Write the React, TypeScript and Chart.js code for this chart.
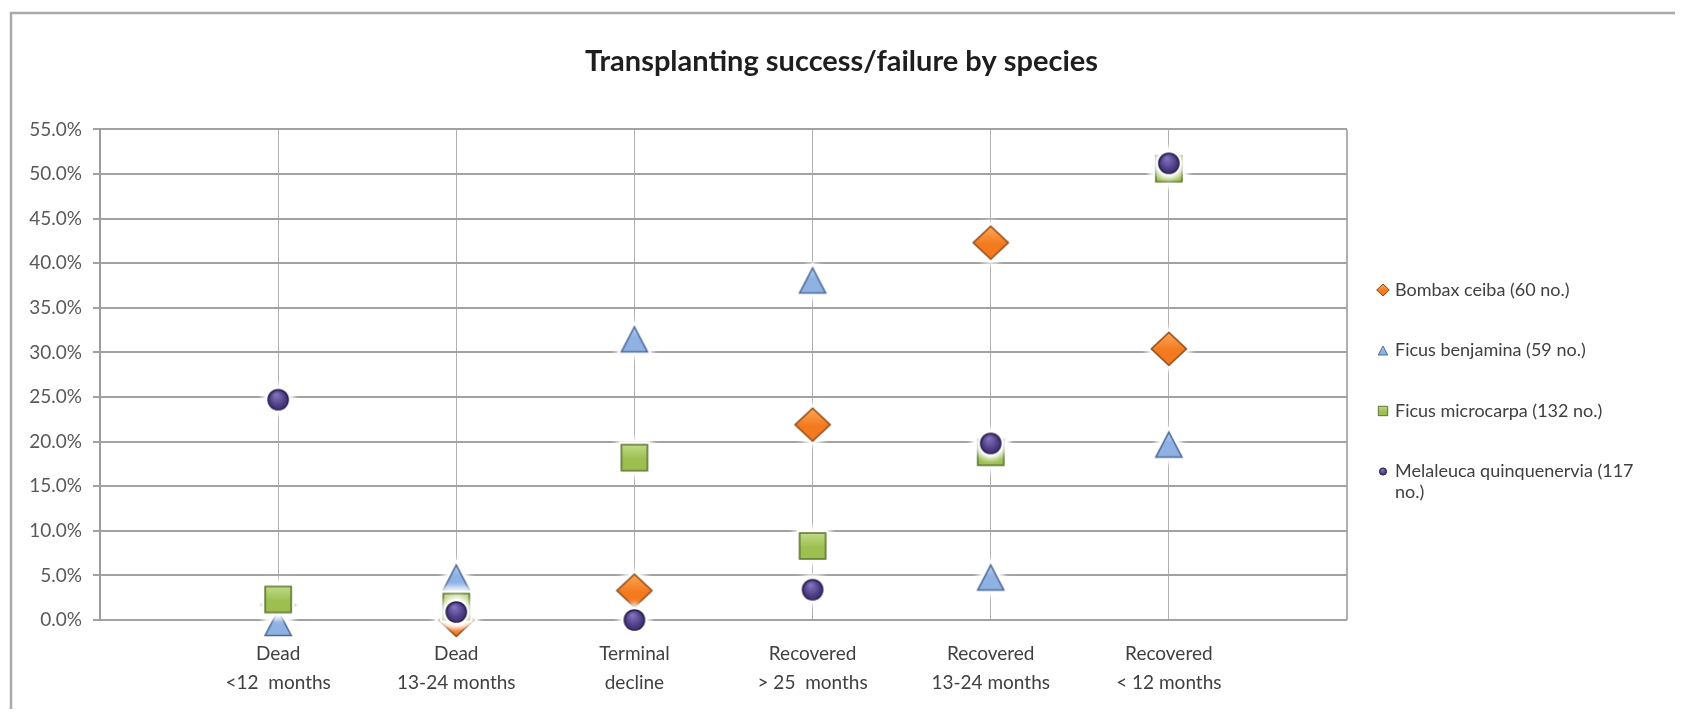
import { useEffect, useRef } from "react";
import { Chart, registerables } from "chart.js";

Chart.register(...registerables);

// Outcome categories (x positions 1..6), each label split over two lines
const categories: string[][] = [
  ["Dead", "<12  months"],
  ["Dead", "13-24 months"],
  ["Terminal", "decline"],
  ["Recovered", "> 25  months"],
  ["Recovered", "13-24 months"],
  ["Recovered", "< 12 months"],
];

const seriesNames = [
  "Bombax ceiba (60 no.)",
  "Ficus benjamina (59 no.)",
  "Ficus microcarpa (132 no.)",
  "Melaleuca quinquenervia (117 no.)",
];

// Share of trees (%) in each outcome category
const bombaxCeiba = [1.7, 0.0, 3.3, 21.9, 42.3, 30.4];
const ficusBenjamina = [0.0, 5.1, 31.8, 38.4, 5.1, 20.0];
const ficusMicrocarpa = [2.3, 1.5, 18.2, 8.3, 18.8, 50.6];
const melaleucaQuinquenervia = [24.7, 0.9, 0.0, 3.4, 19.8, 51.2];

const yMin = 0;
const yMax = 55;
const yStep = 5;

const FONT = "Lato, 'Open Sans', 'DejaVu Sans', sans-serif";

type Shape = "diamond" | "triangle" | "square" | "circle";

interface MarkerStyle {
  shape: Shape;
  light: string;
  base: string;
  stroke: string;
}

const markerStyles: MarkerStyle[] = [
  { shape: "diamond", light: "#ffa655", base: "#f47a1f", stroke: "#8e4a17" },
  { shape: "triangle", light: "#cfe1f7", base: "#8fb2e3", stroke: "#4b6a9b" },
  { shape: "square", light: "#c9e193", base: "#9cbf4f", stroke: "#5b7530" },
  { shape: "circle", light: "#8272bd", base: "#46377c", stroke: "#2c2250" },
];

function tracePath(ctx: CanvasRenderingContext2D, shape: Shape, s: number, dy: number) {
  ctx.beginPath();
  switch (shape) {
    case "diamond":
      ctx.moveTo(0, -16.5 * s);
      ctx.lineTo(17.5 * s, 0);
      ctx.lineTo(0, 16.5 * s);
      ctx.lineTo(-17.5 * s, 0);
      break;
    case "triangle":
      ctx.moveTo(0, (-12.5 + dy) * s);
      ctx.lineTo(13 * s, (12.5 + dy) * s);
      ctx.lineTo(-13 * s, (12.5 + dy) * s);
      break;
    case "square":
      ctx.rect(-13 * s, -13 * s, 26 * s, 26 * s);
      break;
    case "circle":
      ctx.arc(0, 0, 10 * s, 0, Math.PI * 2);
      break;
  }
  ctx.closePath();
}

function paintMarker(ctx: CanvasRenderingContext2D, m: MarkerStyle, s: number, dy: number) {
  let fill: CanvasGradient;
  if (m.shape === "circle") {
    fill = ctx.createRadialGradient(-2 * s, -5 * s, 1 * s, 0, 0, 10.5 * s);
  } else {
    fill = ctx.createLinearGradient(0, -16 * s, 0, 16 * s);
  }
  fill.addColorStop(0, m.light);
  fill.addColorStop(m.shape === "circle" ? 0.8 : 0.55, m.base);
  fill.addColorStop(1, m.base);
  tracePath(ctx, m.shape, s, dy);
  ctx.fillStyle = fill;
  ctx.fill();
  ctx.lineWidth = Math.max(1, 1.6 * s);
  ctx.strokeStyle = m.stroke;
  ctx.stroke();
}

// Marker sprite with a soft white halo around it
function makeMarker(m: MarkerStyle): HTMLCanvasElement {
  const size = 64;
  const c = document.createElement("canvas");
  c.width = size;
  c.height = size;
  const ctx = c.getContext("2d")!;
  ctx.translate(size / 2, size / 2);
  const dy = m.shape === "triangle" ? 3 : 0;
  ctx.save();
  ctx.shadowColor = "rgba(255,255,255,1)";
  ctx.shadowBlur = 9;
  ctx.fillStyle = "#ffffff";
  ctx.strokeStyle = "#ffffff";
  ctx.lineWidth = 5;
  for (let i = 0; i < 3; i++) {
    tracePath(ctx, m.shape, 1, dy);
    ctx.fill();
    ctx.stroke();
  }
  ctx.restore();
  paintMarker(ctx, m, 1, dy);
  return c;
}

const framePlugin = {
  id: "frameTitleLegend",
  beforeDraw(chart: Chart) {
    const ctx = chart.ctx;
    ctx.save();
    ctx.fillStyle = "#ffffff";
    ctx.fillRect(0, 0, chart.width, chart.height);
    ctx.strokeStyle = "#a8a8a8";
    ctx.lineWidth = 2.5;
    ctx.beginPath();
    ctx.moveTo(3, chart.height + 2);
    ctx.lineTo(3, 5);
    ctx.lineTo(chart.width + 2, 5);
    ctx.stroke();
    ctx.restore();
  },
  afterDraw(chart: Chart) {
    const ctx = chart.ctx;
    ctx.save();
    // title
    ctx.font = `bold 29px ${FONT}`;
    ctx.fillStyle = "#1e1e1e";
    ctx.textAlign = "center";
    ctx.textBaseline = "middle";
    ctx.fillText("Transplanting success/failure by species", chart.width / 2, 54);

    // legend
    const area = chart.chartArea;
    const markerX = area.right + 36;
    const textX = area.right + 48;
    const maxW = 255;
    const lineH = 21;
    const step = 60.5;
    ctx.font = `18px ${FONT}`;
    ctx.textAlign = "left";
    let y = 282;
    chart.data.datasets.forEach((ds, i) => {
      const words = String(ds.label).split(" ");
      const lines: string[] = [];
      let cur = "";
      for (const w of words) {
        const t = cur ? cur + " " + w : w;
        if (ctx.measureText(t).width > maxW && cur) {
          lines.push(cur);
          cur = w;
        } else {
          cur = t;
        }
      }
      if (cur) lines.push(cur);
      ctx.save();
      ctx.translate(markerX, y);
      paintMarker(ctx, markerStyles[i], 0.36, 0);
      ctx.restore();
      ctx.fillStyle = "#404040";
      lines.forEach((ln, k) => ctx.fillText(ln, textX, y + k * lineH));
      y += step;
    });
    ctx.restore();
  },
};

export default function App() {
  const canvasRef = useRef<HTMLCanvasElement | null>(null);

  useEffect(() => {
    if (!canvasRef.current) return;
    const seriesValues = [bombaxCeiba, ficusBenjamina, ficusMicrocarpa, melaleucaQuinquenervia];
    const datasets = seriesValues.map((vals, i) => ({
      label: seriesNames[i],
      data: vals.map((v, k) => ({ x: k + 1, y: v })),
      pointStyle: makeMarker(markerStyles[i]),
      pointRadius: 12,
      pointHoverRadius: 12,
      showLine: false,
      clip: false as const,
      order: seriesValues.length - i,
    }));

    const chart = new Chart(canvasRef.current, {
      type: "scatter",
      data: { datasets },
      plugins: [framePlugin],
      options: {
        animation: false,
        responsive: false,
        events: [],
        layout: { padding: { left: 0, top: 121.4, right: 328, bottom: 0 } },
        plugins: {
          legend: { display: false },
          title: { display: false },
          tooltip: { enabled: false },
        },
        scales: {
          x: {
            type: "linear",
            min: 0,
            max: categories.length + 1,
            afterFit: (scale: any) => {
              scale.height = 89;
            },
            ticks: {
              stepSize: 1,
              autoSkip: false,
              maxRotation: 0,
              padding: 19,
              color: "#404040",
              font: { family: FONT, size: 19, lineHeight: 1.53 },
              callback: (value: any) => {
                const i = Math.round(Number(value)) - 1;
                return categories[i] ?? "";
              },
            },
            grid: {
              drawTicks: false,
              color: "#b0b0b0",
              lineWidth: (c: any) => (c.tick && c.tick.value === categories.length + 1 ? 2 : 1),
            },
            border: { display: false },
          },
          y: {
            min: yMin,
            max: yMax,
            afterFit: (scale: any) => {
              scale.width = 92;
            },
            ticks: {
              stepSize: yStep,
              padding: 11,
              color: "#595959",
              font: { family: FONT, size: 19 },
              callback: (value: any) => Number(value).toFixed(1) + "%",
            },
            grid: {
              color: "#a2a2a2",
              lineWidth: 2,
              tickLength: 7,
              drawTicks: true,
            },
            border: { display: true, color: "#9d9d9d", width: 2 },
          },
        },
      },
    });
    return () => chart.destroy();
  }, []);

  return (
    <div style={{ width: 1667, height: 701 }}>
      <canvas ref={canvasRef} width={1667} height={701} style={{ display: "block" }} />
    </div>
  );
}
